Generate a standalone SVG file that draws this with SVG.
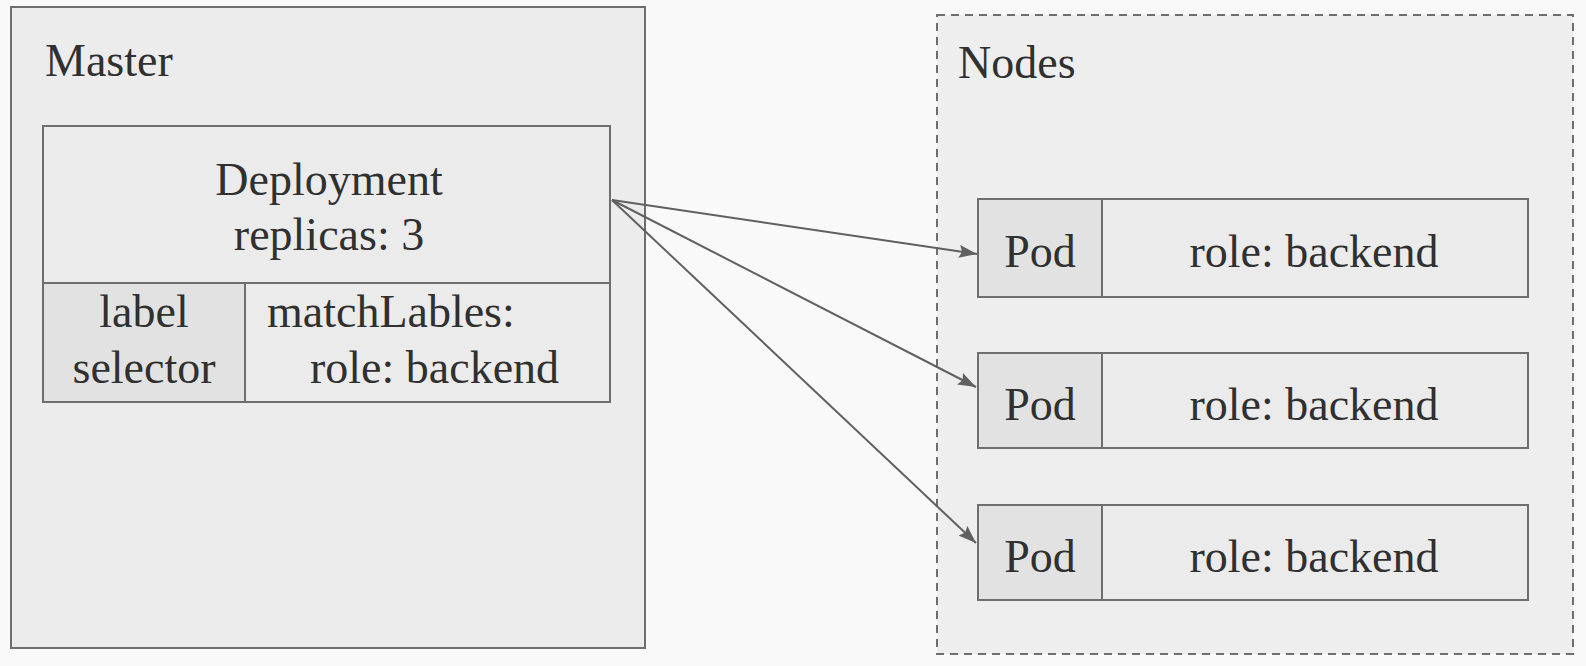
<svg xmlns="http://www.w3.org/2000/svg" width="1586" height="666" viewBox="0 0 1586 666">
  <defs>
    <style>
      text { font-family: "Liberation Serif", "Times New Roman", serif; font-size: 46px; fill: #303030; }
      .mid { text-anchor: middle; }
      .box { fill: #ececec; stroke: #6e6e6e; stroke-width: 2; }
      .dash { fill: #eeeeee; stroke: #6e6e6e; stroke-width: 2; stroke-dasharray: 8 6; }
      .cell { fill: #ebebeb; stroke: #6e6e6e; stroke-width: 2; }
      .dark { fill: #e2e2e2; stroke: #6e6e6e; stroke-width: 2; }
      .conn { stroke: #606060; stroke-width: 2; fill: none; marker-end: url(#arrow); }
    </style>
    <marker id="arrow" viewBox="0 0 18 13" refX="18" refY="6.5" markerWidth="18" markerHeight="13" markerUnits="userSpaceOnUse" orient="auto">
      <path d="M0,0 L18,6.5 L0,13 L3,6.5 Z" fill="#606060"/>
    </marker>
  </defs>
  <rect x="0" y="0" width="1586" height="666" fill="#f9f9f9"/>

  <g id="master">
    <rect class="box" x="11" y="7" width="634" height="641"/>
    <text x="45" y="76">Master</text>
  </g>

  <g id="deployment">
    <rect class="cell" x="43" y="126" width="567" height="276"/>
    <rect class="dark" x="43" y="283" width="202" height="119"/>
    <line x1="43" y1="283" x2="610" y2="283" stroke="#6e6e6e" stroke-width="2"/>
    <text class="mid" x="329" y="195">Deployment</text>
    <text class="mid" x="329" y="250">replicas: 3</text>
    <text class="mid" x="144" y="327">label</text>
    <text class="mid" x="144" y="383">selector</text>
    <text x="267" y="327">matchLables:</text>
    <text x="310" y="383">role: backend</text>
  </g>

  <g id="nodes">
    <rect class="dash" x="937" y="15" width="636" height="639"/>
    <text x="958" y="78">Nodes</text>
  </g>

  <g id="pod1">
    <rect class="cell" x="978" y="199" width="550" height="98"/>
    <rect class="dark" x="978" y="199" width="124" height="98"/>
    <text class="mid" x="1040" y="267">Pod</text>
    <text class="mid" x="1314" y="267">role: backend</text>
  </g>

  <g id="pod2">
    <rect class="cell" x="978" y="353" width="550" height="95"/>
    <rect class="dark" x="978" y="353" width="124" height="95"/>
    <text class="mid" x="1040" y="420">Pod</text>
    <text class="mid" x="1314" y="420">role: backend</text>
  </g>

  <g id="pod3">
    <rect class="cell" x="978" y="505" width="550" height="95"/>
    <rect class="dark" x="978" y="505" width="124" height="95"/>
    <text class="mid" x="1040" y="572">Pod</text>
    <text class="mid" x="1314" y="572">role: backend</text>
  </g>

  <g id="connectors">
    <line class="conn" x1="612" y1="200" x2="977" y2="254"/>
    <line class="conn" x1="612" y1="200" x2="976" y2="387"/>
    <line class="conn" x1="612" y1="200" x2="976" y2="543"/>
  </g>
</svg>
